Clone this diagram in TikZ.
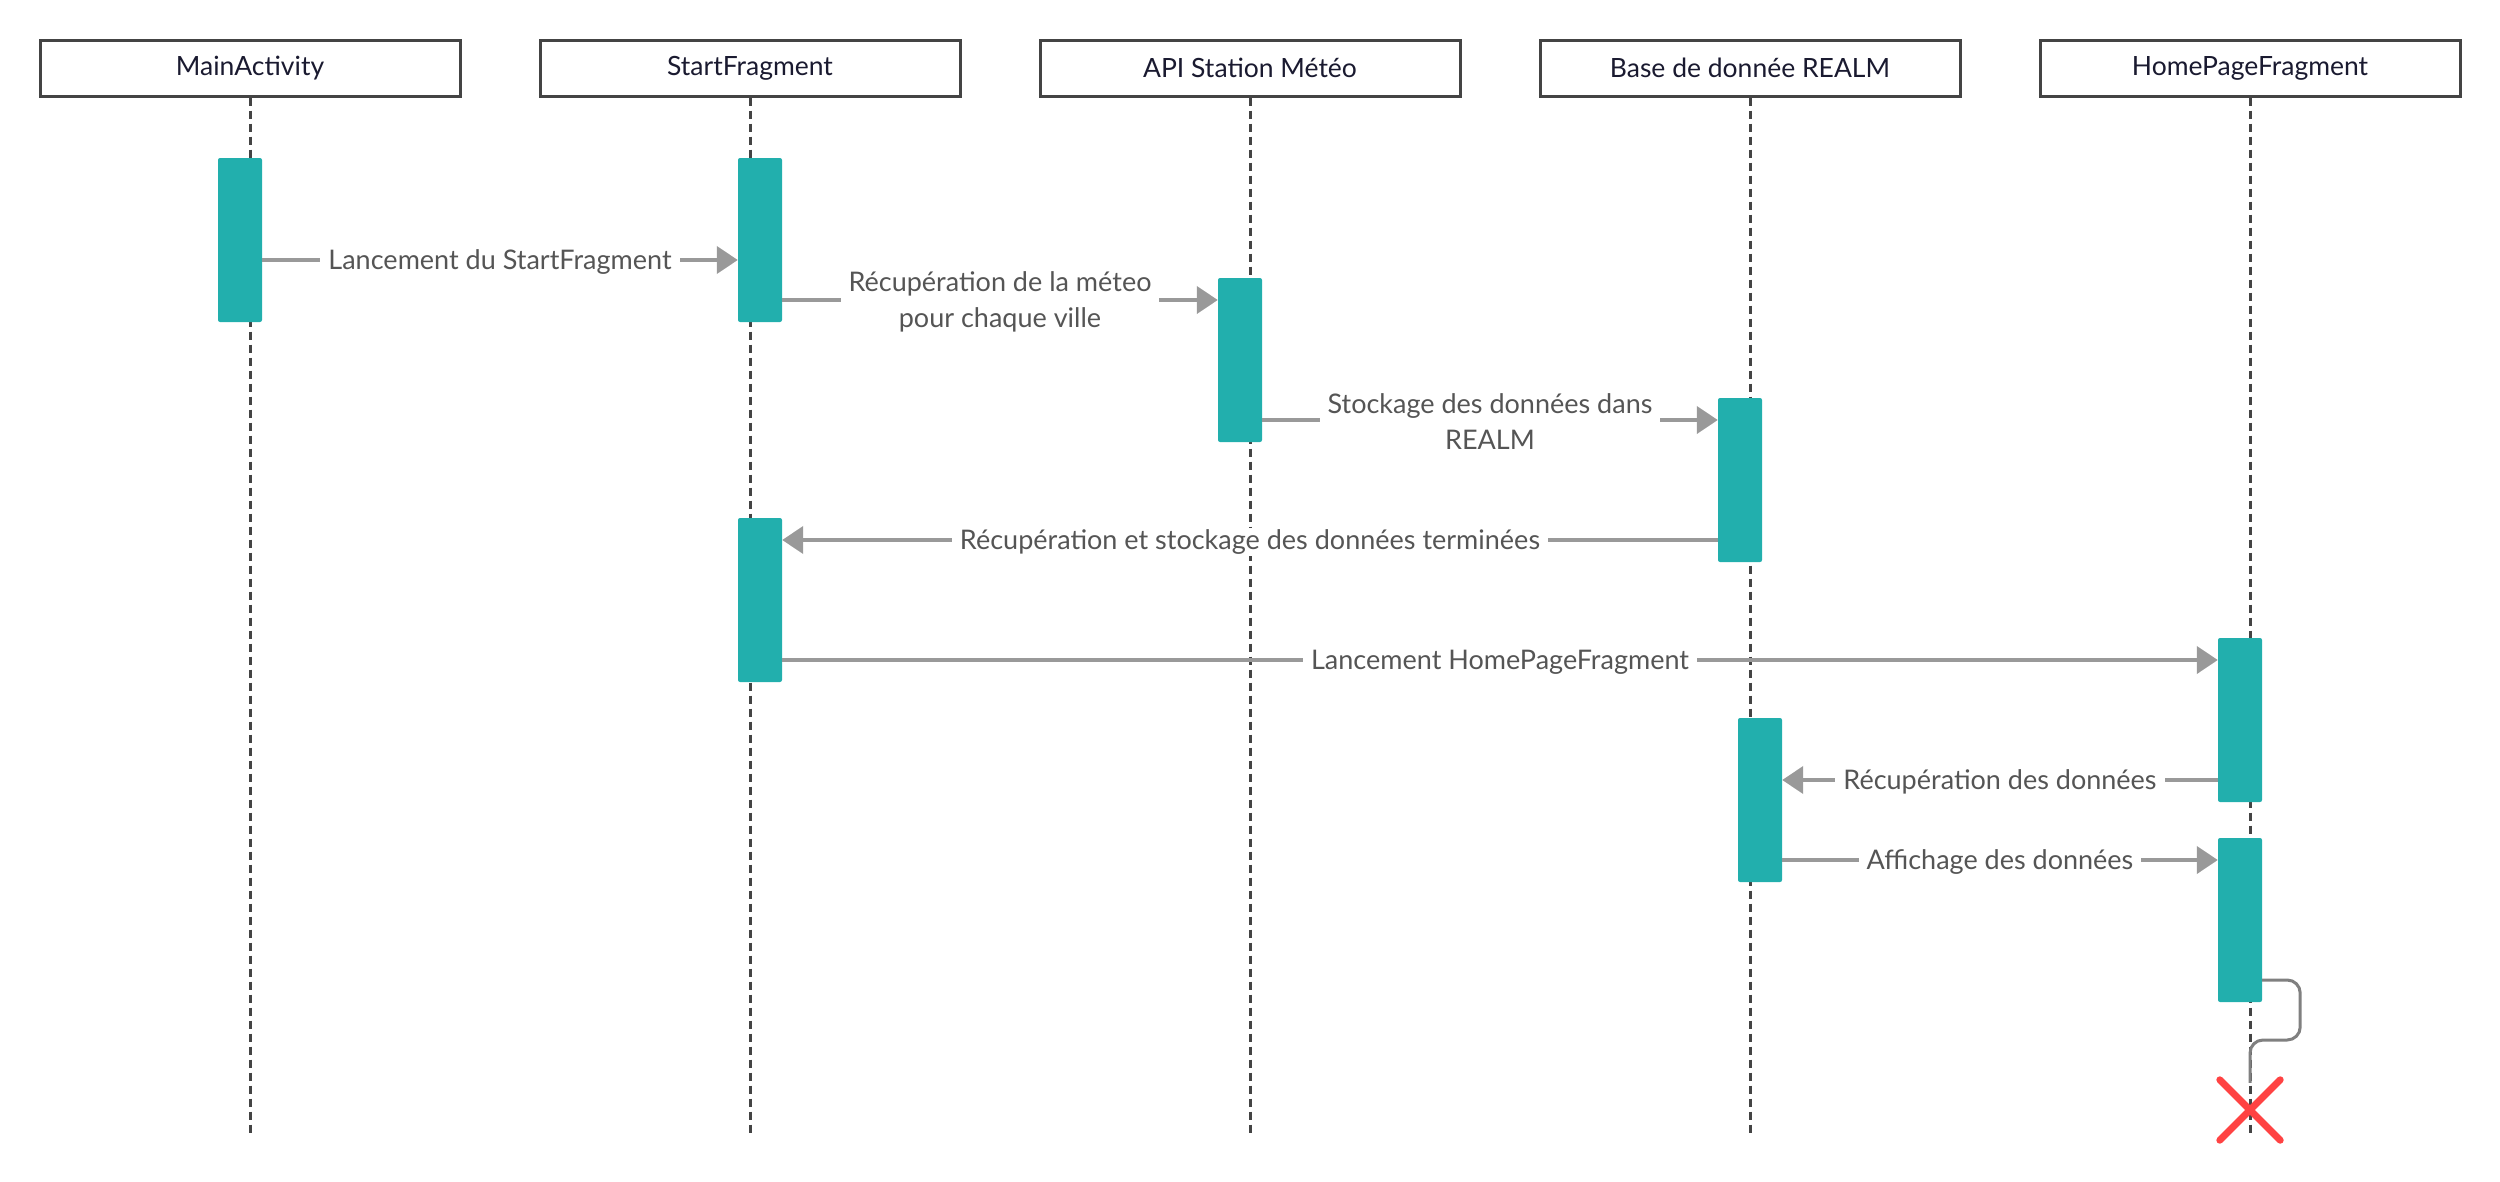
\documentclass[tikz,border=0pt]{standalone}
\usepackage{fontspec}
\setmainfont{Lato}
\usetikzlibrary{arrows.meta}

\definecolor{boxline}{HTML}{444444}
\definecolor{headtext}{HTML}{1A1A30}
\definecolor{tealbar}{HTML}{22AFAD}
\definecolor{msgline}{HTML}{999999}
\definecolor{msgtext}{HTML}{555555}
\definecolor{selfline}{HTML}{808080}
\definecolor{killred}{HTML}{FF4343}

\tikzset{
  head/.style={draw=boxline, line width=3pt, fill=white, minimum width=420pt, minimum height=56pt,
    inner sep=0pt, text=headtext, font=\fontsize{26.5}{36}\selectfont},
  lifeline/.style={draw=boxline, line width=3pt, dash pattern=on 8pt off 5pt},
  actbar/.style={fill=tealbar, draw=none, rounded corners=2pt, minimum width=44pt, minimum height=164pt, inner sep=0pt},
  msg/.style={draw=msgline, line width=4pt, -{Triangle[length=21pt,width=27pt]}},
  msglabel/.style={midway, yshift=-2pt, fill=white, inner xsep=8pt, inner ysep=2pt, text=msgtext, align=center,
    font=\fontsize{27}{36}\selectfont},
}

\begin{document}
\begin{tikzpicture}[x=1pt,y=-1pt]
\useasboundingbox (0,0) rectangle (2500,1181);

% objets et lignes de vie
\foreach \nom [count=\i] in {MainActivity, StartFragment, API Station Météo, Base de donnée REALM, HomePageFragment} {
  \node[head] (h\i) at (\i*500-250,68) {\nom};
  \coordinate (f\i) at (\i*500-250,1135);
  \draw[lifeline] (h\i.south) -- (f\i);
}

% barres d'activation
\node[actbar] (main1)  at (240,240) {};
\node[actbar] (start1) at (760,240) {};
\node[actbar] (api1)   at (1240,360) {};
\node[actbar] (realm1) at (1740,480) {};
\node[actbar] (start2) at (760,600) {};
\node[actbar] (home1)  at (2240,720) {};
\node[actbar] (realm2) at (1760,800) {};
\node[actbar] (home2)  at (2240,920) {};

% messages
\draw[msg] ([yshift=-20pt]main1.east) -- node[msglabel] {Lancement du StartFragment} ([yshift=-20pt]start1.west);
\draw[msg] ([yshift=-60pt]start1.east) -- node[msglabel] {Récupération de la méteo\\pour chaque ville} ([yshift=60pt]api1.west);
\draw[msg] ([yshift=-60pt]api1.east) -- node[msglabel] {Stockage des données dans\\REALM} ([yshift=60pt]realm1.west);
\draw[msg] ([yshift=-60pt]realm1.west) -- node[msglabel] {Récupération et stockage des données terminées} ([yshift=60pt]start2.east);
\draw[msg] ([yshift=-60pt]start2.east) -- node[msglabel] {Lancement HomePageFragment} ([yshift=60pt]home1.west);
\draw[msg] ([yshift=-60pt]home1.west) -- node[msglabel] {Récupération des données} ([yshift=20pt]realm2.east);
\draw[msg] ([yshift=-60pt]realm2.east) -- node[msglabel] {Affichage des données} ([yshift=60pt]home2.west);

% fin du fragment
\node[inner sep=0pt, minimum size=60pt] (fin) at (2250,1110) {};
\draw[killred, line width=7pt, line cap=round] (fin.north west) -- (fin.south east) (fin.north east) -- (fin.south west);
\draw[selfline, line width=3pt, rounded corners=13pt] ([yshift=-60pt]home2.east) -- ++(38,0) -- ++(0,60) -| ([yshift=-3pt]fin.north);
\end{tikzpicture}
\end{document}
